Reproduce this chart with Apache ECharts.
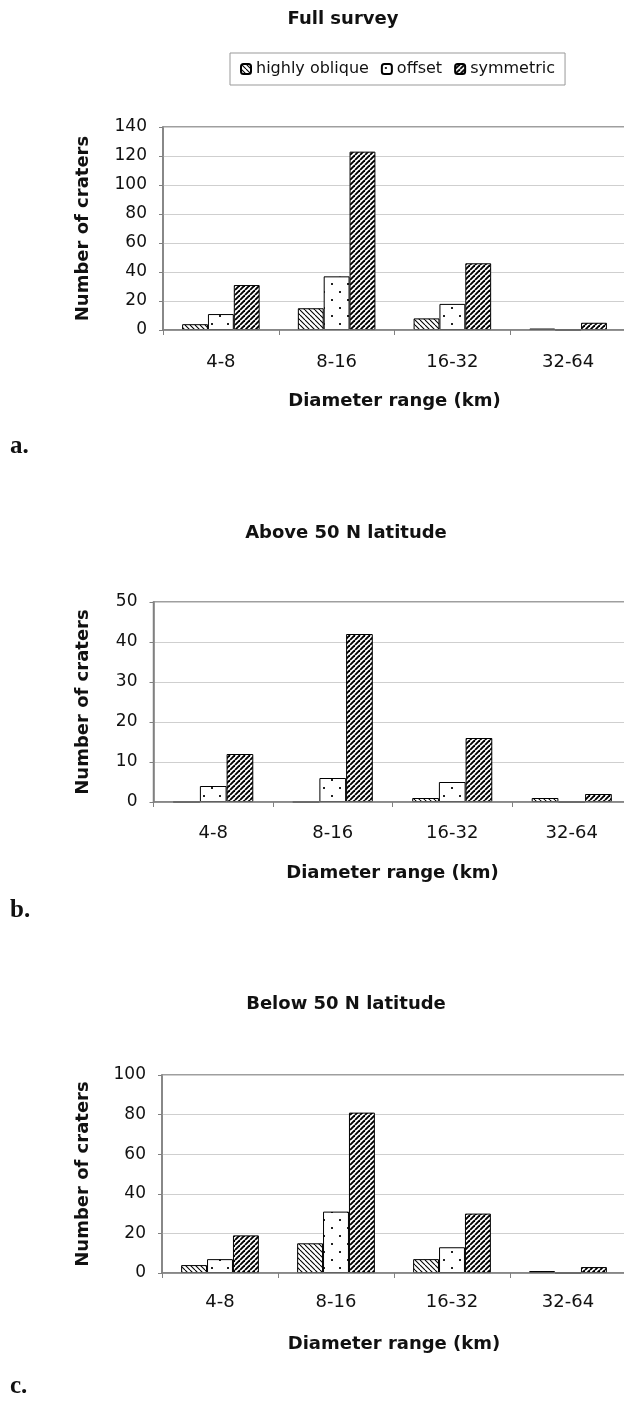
<!DOCTYPE html>
<html>
<head>
<meta charset="utf-8">
<script src="https://cdn.jsdelivr.net/npm/echarts@6/dist/echarts.min.js"></script>
<style>
  html, body { margin: 0; padding: 0; background: #fff; }
  #craterChart { width: 624px; height: 1402px; }
</style>
</head>
<body>
<div id="craterChart"></div>
<script>
// values
const categories     = ['4-8', '8-16', '16-32', '32-64'];
const seriesNames    = ['highly oblique', 'offset', 'symmetric'];

const fullOblique    = [4, 15, 8, 1];
const fullOffset     = [11, 37, 18, 0];
const fullSymmetric  = [31, 123, 46, 5];

const aboveOblique   = [0, 0, 1, 1];
const aboveOffset    = [4, 6, 5, 0];
const aboveSymmetric = [12, 42, 16, 2];

const belowOblique   = [4, 15, 7, 1];
const belowOffset    = [7, 31, 13, 0];
const belowSymmetric = [19, 81, 30, 3];

const panelTitles    = ['Full survey', 'Above 50 N latitude', 'Below 50 N latitude'];
const panelLetters   = ['a.', 'b.', 'c.'];
const yMax           = [140, 50, 100];
const yStep          = [20, 10, 20];

document.addEventListener('DOMContentLoaded', () => {

    // hatch fills like the old excel print patterns
    function hatch(size, lw, forward) {
        const c = document.createElement('canvas');
        c.width = size; c.height = size;
        const ctx = c.getContext('2d');
        ctx.fillStyle = '#fff';
        ctx.fillRect(0, 0, size, size);
        ctx.strokeStyle = '#000';
        ctx.lineWidth = lw;
        for (let k = -1; k <= 1; k++) {
            ctx.beginPath();
            if (forward) {
                ctx.moveTo(k * size, size);
                ctx.lineTo(k * size + size, 0);
            } else {
                ctx.moveTo(k * size, 0);
                ctx.lineTo(k * size + size, size);
            }
            ctx.stroke();
        }
        return { image: c, repeat: 'repeat' };
    }

    function dots() {
        const c = document.createElement('canvas');
        c.width = 16; c.height = 16;
        const ctx = c.getContext('2d');
        ctx.fillStyle = '#fff';
        ctx.fillRect(0, 0, 16, 16);
        ctx.fillStyle = '#222';
        ctx.fillRect(3, 3, 2, 2);
        ctx.fillRect(11, 11, 2, 2);
        return { image: c, repeat: 'repeat' };
    }

    const fills = [hatch(5, 1.1, false), dots(), hatch(5, 1.9, true)];

    // plot areas end just past the right edge (the scan is cut there)
    const grids = [
        { left: 163,   top: 127,  width: 463, height: 203 },
        { left: 153.5, top: 602,  width: 478, height: 200 },
        { left: 162,   top: 1075, width: 464, height: 198 },
    ];
    const yNameGap   = [71, 61, 70];
    const xLabMargin = [23, 22, 20];
    const titlePos   = [[343, 10], [346, 524], [346, 995]];
    const letterTop  = [434, 898, 1374];

    const panelData = [
        [fullOblique,  fullOffset,  fullSymmetric],
        [aboveOblique, aboveOffset, aboveSymmetric],
        [belowOblique, belowOffset, belowSymmetric],
    ];

    const txt = '#111';
    const sans = 'DejaVu Sans';

    const titles = [];
    panelTitles.forEach((t, i) => {
        titles.push({
            text: t, left: titlePos[i][0], top: titlePos[i][1], textAlign: 'center', padding: 0,
            textStyle: { fontFamily: sans, fontSize: 18, fontWeight: 'bold', color: txt }
        });
        titles.push({
            text: panelLetters[i], left: 10, top: letterTop[i], padding: 0,
            textStyle: { fontFamily: 'Liberation Serif', fontSize: 25, fontWeight: 'bold', color: txt }
        });
    });

    const xAxes = grids.map((g, i) => ({
        type: 'category', gridIndex: i, data: categories, z: 3,
        name: 'Diameter range (km)', nameLocation: 'middle', nameGap: 62,
        nameTextStyle: { fontFamily: sans, fontSize: 18, fontWeight: 'bold', color: txt },
        axisLine: { lineStyle: { color: '#808080', width: 1.5 } },
        axisTick: { show: true, length: 5, lineStyle: { color: '#808080' } },
        axisLabel: { fontFamily: sans, fontSize: 18, color: txt, margin: xLabMargin[i] },
        splitLine: { show: false }
    }));

    const yAxes = grids.map((g, i) => ({
        type: 'value', gridIndex: i, min: 0, max: yMax[i], interval: yStep[i],
        name: 'Number of craters', nameLocation: 'middle', nameGap: yNameGap[i], nameRotate: 90,
        nameTextStyle: { fontFamily: sans, fontSize: 18, fontWeight: 'bold', color: txt },
        axisLine: { show: true, lineStyle: { color: '#808080', width: 1.5 } },
        axisTick: { show: true, length: 4, lineStyle: { color: '#808080' } },
        axisLabel: { fontFamily: sans, fontSize: 17, color: txt, margin: 16 },
        splitLine: { show: true, lineStyle: { color: '#cfcfcf', width: 1 } }
    }));

    const series = [];
    panelData.forEach((sets, i) => {
        sets.forEach((vals, j) => {
            series.push({
                name: seriesNames[j], type: 'bar',
                xAxisIndex: i, yAxisIndex: i,
                data: vals,
                barGap: '0%', barCategoryGap: '33%',
                itemStyle: { color: fills[j], borderColor: '#000', borderWidth: 1 },
                emphasis: { disabled: true },
                animation: false
            });
        });
    });

    const option = {
        backgroundColor: '#fff',
        animation: false,
        title: titles,
        legend: {
            data: seriesNames,
            left: 230, top: 53,
            padding: [8, 10],
            itemGap: 12, itemWidth: 10, itemHeight: 10,
            borderColor: '#999', borderWidth: 1,
            textStyle: { fontFamily: sans, fontSize: 16, color: txt },
            selectedMode: false
        },
        grid: grids.map(g => Object.assign({
            show: true, borderColor: '#808080', borderWidth: 1.5,
            outerBoundsMode: 'none', containLabel: false
        }, g)),
        xAxis: xAxes,
        yAxis: yAxes,
        series: series
    };

    const chart = echarts.init(document.getElementById('craterChart'));
    chart.setOption(option);

});
</script>
</body>
</html>
